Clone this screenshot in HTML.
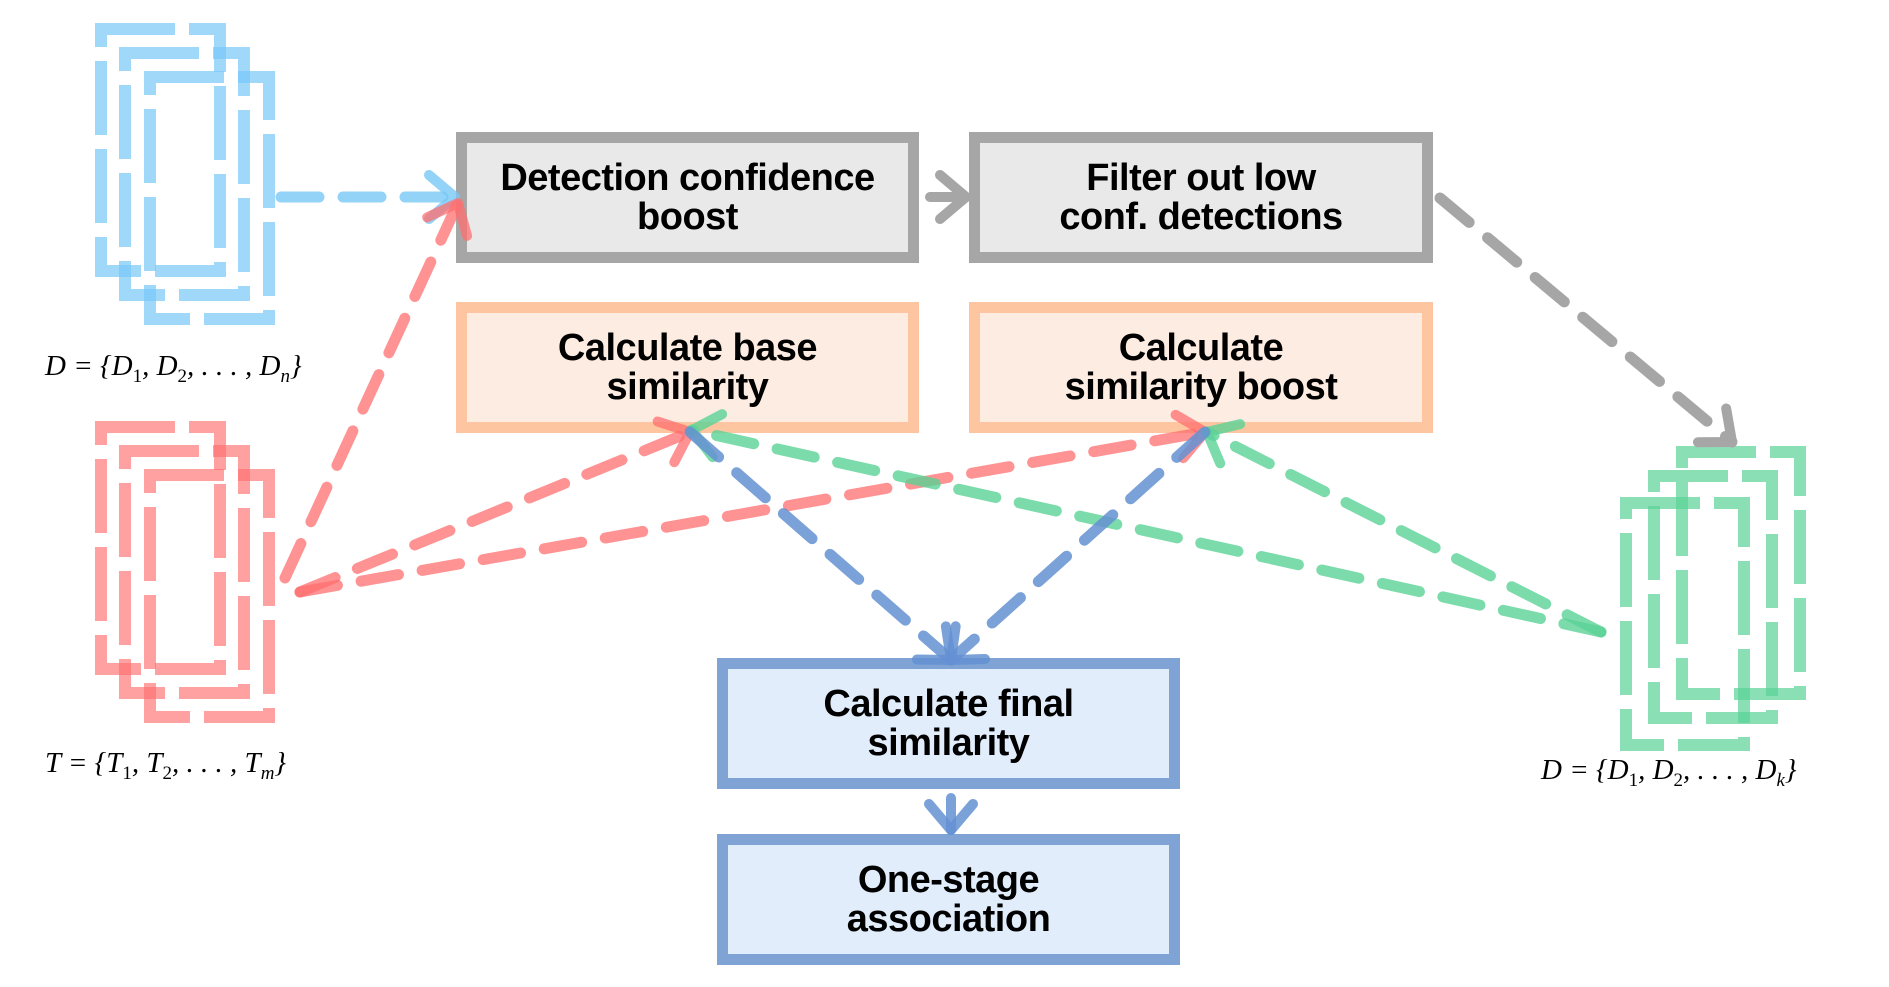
<!DOCTYPE html>
<html><head><meta charset="utf-8"><style>
html,body{margin:0;padding:0;background:#fff;}
body{width:1889px;height:987px;overflow:hidden;position:relative;font-family:"Liberation Sans",sans-serif;}
.box{position:absolute;box-sizing:border-box;border:11px solid;display:flex;align-items:center;justify-content:center;text-align:center;font-weight:bold;font-size:38px;line-height:39px;letter-spacing:-0.5px;color:#000;}
.g{border-color:#a6a6a6;background:#e9e9e9;}
.o{border-color:#fdc6a1;background:#fdece1;}
.b{border-color:#7ea3d4;background:#e1edfb;}
.m{position:absolute;font-family:"Liberation Serif",serif;font-style:italic;font-size:29px;white-space:nowrap;}
svg{position:absolute;left:0;top:0;}
</style></head><body>
<div class="box g" style="left:456px;top:132px;width:463px;height:131px;">Detection confidence<br>boost</div>
<div class="box g" style="left:969px;top:132px;width:464px;height:131px;">Filter out low<br>conf. detections</div>
<div class="box o" style="left:456px;top:302px;width:463px;height:131px;">Calculate base<br>similarity</div>
<div class="box o" style="left:969px;top:302px;width:464px;height:131px;">Calculate<br>similarity boost</div>
<div class="box b" style="left:717px;top:658px;width:463px;height:131px;">Calculate final<br>similarity</div>
<div class="box b" style="left:717px;top:834px;width:463px;height:131px;">One-stage<br>association</div>

<svg width="1889" height="987" viewBox="0 0 1889 987">
<defs>
<marker id="ab" markerUnits="userSpaceOnUse" viewBox="-40 -30 50 60" refX="0" refY="0" markerWidth="50" markerHeight="60" orient="auto"><path d="M-26,-22 L0,0 L-26,22" fill="none" stroke="rgba(120,200,245,0.8)" stroke-width="10" stroke-linecap="round" stroke-linejoin="round"/></marker>
<marker id="ag" markerUnits="userSpaceOnUse" viewBox="-40 -30 50 60" refX="0" refY="0" markerWidth="50" markerHeight="60" orient="auto"><path d="M-26,-22 L0,0 L-26,22" fill="none" stroke="#a6a6a6" stroke-width="10" stroke-linecap="round" stroke-linejoin="round"/></marker>
<marker id="ar" markerUnits="userSpaceOnUse" viewBox="-40 -30 50 60" refX="0" refY="0" markerWidth="50" markerHeight="60" orient="auto"><path d="M-26,-22 L0,0 L-26,22" fill="none" stroke="rgba(255,110,110,0.75)" stroke-width="10" stroke-linecap="round" stroke-linejoin="round"/></marker>
<marker id="agr" markerUnits="userSpaceOnUse" viewBox="-40 -30 50 60" refX="0" refY="0" markerWidth="50" markerHeight="60" orient="auto"><path d="M-26,-22 L0,0 L-26,22" fill="none" stroke="rgba(90,210,150,0.8)" stroke-width="10" stroke-linecap="round" stroke-linejoin="round"/></marker>
<marker id="abl" markerUnits="userSpaceOnUse" viewBox="-40 -30 50 60" refX="0" refY="0" markerWidth="50" markerHeight="60" orient="auto"><path d="M-26,-22 L0,0 L-26,22" fill="none" stroke="rgba(100,145,210,0.85)" stroke-width="10" stroke-linecap="round" stroke-linejoin="round"/></marker>
</defs>

<!-- blue stack -->
<g fill="none" stroke="rgba(120,200,248,0.7)" stroke-width="12" stroke-dasharray="74 14">
<rect x="101" y="29" width="119" height="242"/>
<rect x="125" y="53" width="119" height="242"/>
<rect x="150" y="77" width="119" height="242"/>
</g>
<!-- red stack -->
<g fill="none" stroke="rgba(255,110,110,0.65)" stroke-width="12" stroke-dasharray="74 14">
<rect x="101" y="427" width="119" height="242"/>
<rect x="125" y="451" width="119" height="242"/>
<rect x="150" y="475" width="119" height="242"/>
</g>
<!-- green stack -->
<g fill="none" stroke="rgba(90,210,150,0.7)" stroke-width="12" stroke-dasharray="74 14">
<rect x="1682" y="452" width="118" height="242"/>
<rect x="1654" y="476" width="118" height="242"/>
<rect x="1626" y="503" width="118" height="242"/>
</g>

<g fill="none" stroke-width="11" stroke-linecap="round" stroke-dasharray="38 24">
<line x1="281" y1="197" x2="455" y2="197" stroke="rgba(120,200,245,0.8)" marker-end="url(#ab)"/>
<line x1="285" y1="578" x2="458" y2="203" stroke="rgba(255,110,110,0.75)" marker-end="url(#ar)"/>
<line x1="300" y1="592" x2="690" y2="432" stroke="rgba(255,110,110,0.75)" marker-end="url(#ar)"/>
<line x1="300" y1="592" x2="1205" y2="432" stroke="rgba(255,110,110,0.75)" marker-end="url(#ar)"/>
<line x1="1601" y1="632" x2="692" y2="430" stroke="rgba(90,210,150,0.8)" marker-end="url(#agr)"/>
<line x1="1601" y1="632" x2="1207" y2="432" stroke="rgba(90,210,150,0.8)" marker-end="url(#agr)"/>
<line x1="690" y1="432" x2="951" y2="660" stroke="rgba(100,145,210,0.85)" marker-end="url(#abl)"/>
<line x1="1205" y1="432" x2="951" y2="660" stroke="rgba(100,145,210,0.85)" marker-end="url(#abl)"/>
<line x1="1440" y1="198" x2="1732" y2="442" stroke="#a6a6a6" marker-end="url(#ag)"/>
</g>
<line x1="930" y1="197" x2="966" y2="197" stroke="#a6a6a6" stroke-width="10" stroke-linecap="round" marker-end="url(#ag)"/>
<line x1="951" y1="798" x2="951" y2="830" stroke="rgba(100,145,210,0.85)" stroke-width="10" stroke-linecap="round" marker-end="url(#abl)"/>
</svg>

<div class="m" style="left:45px;top:350px;">D = {D<sub style="font-style:normal;font-size:19px">1</sub>, D<sub style="font-style:normal;font-size:19px">2</sub>, . . . , D<sub style="font-size:19px">n</sub>}</div>
<div class="m" style="left:45px;top:747px;">T = {T<sub style="font-style:normal;font-size:19px">1</sub>, T<sub style="font-style:normal;font-size:19px">2</sub>, . . . , T<sub style="font-size:19px">m</sub>}</div>
<div class="m" style="left:1541px;top:754px;">D = {D<sub style="font-style:normal;font-size:19px">1</sub>, D<sub style="font-style:normal;font-size:19px">2</sub>, . . . , D<sub style="font-size:19px">k</sub>}</div>
</body></html>
